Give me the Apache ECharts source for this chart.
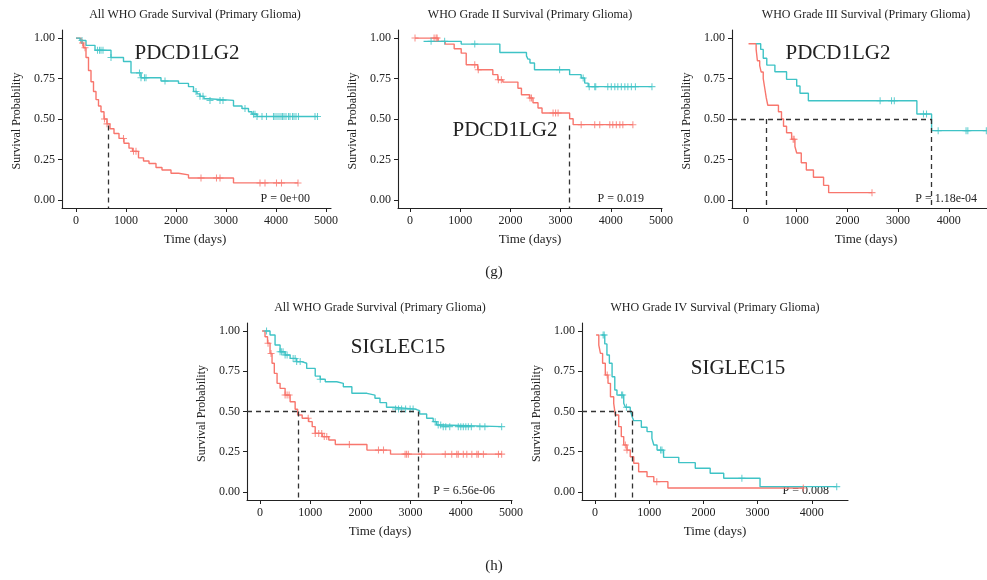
<!DOCTYPE html>
<html>
<head>
<meta charset="utf-8">
<script src="https://cdn.jsdelivr.net/npm/echarts@6/dist/echarts.min.js"></script>
<style>
  html, body { margin: 0; padding: 0; background: #fff; }
  #chart { width: 987px; height: 580px; }
</style>
</head>
<body>
<div id="chart"></div>
<script>
// ---- data (days / survival probability) ----
const xTicks = [0, 1000, 2000, 3000, 4000, 5000];
const yTicks = [0, 0.25, 0.5, 0.75, 1];

// (g) All WHO grade, PDCD1LG2
const p1RedT = [0, 100, 150, 200, 250, 300, 350, 400, 450, 500, 560, 620, 680, 760, 860, 960, 1060, 1130, 1250, 1350, 1460, 1600, 1720, 1900, 2050, 2250, 3150, 4440];
const p1RedS = [1.0, 0.97, 0.94, 0.88, 0.80, 0.73, 0.67, 0.62, 0.58, 0.545, 0.50, 0.47, 0.44, 0.41, 0.38, 0.35, 0.32, 0.30, 0.26, 0.24, 0.225, 0.20, 0.185, 0.165, 0.155, 0.135, 0.105, 0.105];
const p1RedCens = [130, 180, 570, 620, 950, 1150, 1200, 2500, 2810, 2880, 3680, 3780, 4010, 4110, 4440];
const p1CyanT = [0, 80, 200, 380, 700, 950, 1100, 1300, 1700, 2050, 2250, 2350, 2420, 2480, 2560, 2650, 3150, 3320, 3450, 3520, 3620, 4840];
const p1CyanS = [1.0, 0.985, 0.955, 0.925, 0.88, 0.855, 0.785, 0.755, 0.735, 0.72, 0.70, 0.67, 0.655, 0.64, 0.625, 0.615, 0.58, 0.565, 0.545, 0.53, 0.515, 0.515];
const p1CyanCens = [120, 430, 470, 500, 540, 700, 1270, 1300, 1370, 1400, 1780, 2400, 2480, 2540, 2680, 2880, 2940, 3380, 3550, 3580, 3620, 3720, 3810, 3950, 3980, 4020, 4060, 4100, 4130, 4160, 4200, 4250, 4280, 4330, 4360, 4400, 4450, 4780, 4830];
const p1Medians = [640];

// (g) WHO grade II, PDCD1LG2
const p2RedT = [100, 560, 700, 880, 1020, 1120, 1350, 1650, 1750, 1850, 2150, 2220, 2380, 2450, 2550, 2630, 3180, 3250, 4440];
const p2RedS = [1.0, 0.98, 0.963, 0.934, 0.907, 0.835, 0.804, 0.774, 0.743, 0.728, 0.69, 0.65, 0.63, 0.60, 0.568, 0.537, 0.502, 0.465, 0.465];
const p2RedCens = [100, 480, 520, 540, 1290, 1360, 1760, 1820, 2390, 2420, 2850, 2900, 2950, 3410, 3680, 3780, 3980, 4040, 4110, 4180, 4240, 4440];
const p2CyanT = [270, 1020, 1790, 2320, 2350, 2390, 2480, 3180, 3410, 3480, 3550, 4820];
const p2CyanS = [0.98, 0.963, 0.911, 0.89, 0.87, 0.846, 0.804, 0.774, 0.753, 0.722, 0.70, 0.70];
const p2CyanCens = [420, 690, 1290, 2980, 3450, 3570, 3680, 3700, 3940, 4010, 4080, 4140, 4210, 4280, 4340, 4410, 4490, 4820];
const p2Medians = [3170];

// (g) WHO grade III, PDCD1LG2
const p3RedT = [50, 200, 225, 270, 300, 340, 370, 400, 430, 640, 700, 740, 800, 900, 965, 1000, 1090, 1190, 1330, 1530, 1630, 2485];
const p3RedS = [0.965, 0.93, 0.86, 0.83, 0.79, 0.75, 0.69, 0.63, 0.585, 0.545, 0.50, 0.455, 0.415, 0.375, 0.33, 0.29, 0.23, 0.185, 0.14, 0.09, 0.045, 0.045];
const p3RedCens = [930, 950, 2485];
const p3CyanT = [200, 290, 340, 410, 570, 800, 1000, 1065, 1230, 3370, 3660, 4750];
const p3CyanS = [0.965, 0.93, 0.875, 0.833, 0.792, 0.745, 0.704, 0.659, 0.613, 0.531, 0.428, 0.428];
const p3CyanCens = [2645, 2870, 2925, 3500, 3560, 3790, 4340, 4375, 4740];
const p3Medians = [400, 3660];

// (h) All WHO grade, SIGLEC15
const p4RedT = [40, 100, 150, 200, 240, 285, 340, 400, 500, 600, 700, 750, 840, 970, 1040, 1100, 1240, 1370, 1500, 2130, 2600, 4814];
const p4RedS = [1.0, 0.965, 0.924, 0.86, 0.80, 0.737, 0.675, 0.644, 0.602, 0.561, 0.514, 0.478, 0.458, 0.437, 0.406, 0.364, 0.344, 0.323, 0.295, 0.26, 0.235, 0.235];
const p4RedCens = [160, 220, 500, 540, 580, 960, 1100, 1170, 1230, 1280, 1330, 1780, 2360, 2460, 2890, 2920, 2955, 3220, 3690, 3820, 3920, 3950, 4050, 4120, 4220, 4320, 4350, 4450, 4750, 4814];
const p4CyanT = [100, 200, 300, 400, 500, 600, 730, 830, 930, 1100, 1200, 1300, 1530, 1660, 1830, 2130, 2290, 2390, 2520, 2660, 3090, 3180, 3320, 3450, 3520, 3650, 4814];
const p4CyanS = [1.0, 0.975, 0.913, 0.871, 0.851, 0.83, 0.81, 0.80, 0.768, 0.72, 0.70, 0.685, 0.675, 0.654, 0.613, 0.602, 0.582, 0.555, 0.526, 0.515, 0.505, 0.484, 0.458, 0.437, 0.416, 0.406, 0.406];
const p4CyanCens = [130, 400, 430, 460, 500, 540, 660, 700, 730, 800, 1200, 2700, 2760, 2820, 2900, 2990, 3050, 3490, 3550, 3600, 3650, 3700, 3780, 3950, 4000, 4050, 4100, 4150, 4210, 4380, 4480, 4814];
const p4Medians = [757, 3150];

// (h) WHO grade IV, SIGLEC15
const p5RedT = [20, 70, 100, 140, 190, 240, 285, 345, 375, 437, 485, 530, 590, 650, 715, 805, 960, 1085, 1345, 3843];
const p5RedS = [0.975, 0.913, 0.861, 0.80, 0.727, 0.675, 0.592, 0.551, 0.478, 0.406, 0.344, 0.292, 0.26, 0.219, 0.178, 0.126, 0.095, 0.064, 0.025, 0.025];
const p5RedCens = [225, 560, 590, 1140, 3843];
const p5CyanT = [125, 180, 220, 265, 315, 365, 405, 530, 560, 650, 685, 715, 855, 960, 1050, 1085, 1145, 1265, 1545, 1850, 2125, 2375, 3045, 4460];
const p5CyanS = [0.975, 0.92, 0.851, 0.80, 0.716, 0.634, 0.602, 0.551, 0.526, 0.509, 0.468, 0.443, 0.402, 0.375, 0.333, 0.292, 0.26, 0.215, 0.182, 0.147, 0.116, 0.085, 0.033, 0.033];
const p5CyanCens = [150, 170, 490, 510, 580, 1210, 1235, 2710, 4460];
const p5Medians = [375, 683];

const RED = '#F8766D';
const CYAN = '#3fc3c6';
const FONT = '"Liberation Serif", "DejaVu Serif", serif';
const INK = '#222';
const PLUS = 'path://M8.5,0h3v8.5h8.5v3h-8.5v8.5h-3v-8.5h-8.5v-3h8.5z';

const panels = [
  { grid: { left: 62, top: 30, width: 269, height: 178 }, xMin: -280, xMax: 5100,
    red: [p1RedT, p1RedS, p1RedCens], cyan: [p1CyanT, p1CyanS, p1CyanCens],
    medians: p1Medians, medTop: 0.46, hLine: false,
    title: 'All WHO Grade Survival (Primary Glioma)', titleX: 195,
    gene: 'PDCD1LG2', geneXY: [187, 53], pval: 'P = 0e+00', pvalXY: [310, 199] },
  { grid: { left: 398, top: 30, width: 264, height: 178 }, xMin: -239, xMax: 5020,
    red: [p2RedT, p2RedS, p2RedCens], cyan: [p2CyanT, p2CyanS, p2CyanCens],
    medians: p2Medians, medTop: 0.46, hLine: false,
    title: 'WHO Grade II Survival (Primary Glioma)', titleX: 530,
    gene: 'PDCD1LG2', geneXY: [505, 130], pval: 'P = 0.019', pvalXY: [644, 199] },
  { grid: { left: 732, top: 30, width: 255, height: 178 }, xMin: -276, xMax: 4753,
    red: [p3RedT, p3RedS, p3RedCens], cyan: [p3CyanT, p3CyanS, p3CyanCens],
    medians: p3Medians, medTop: 0.5, hLine: true,
    title: 'WHO Grade III Survival (Primary Glioma)', titleX: 866,
    gene: 'PDCD1LG2', geneXY: [838, 53], pval: 'P = 1.18e-04', pvalXY: [977, 199] },
  { grid: { left: 247, top: 323, width: 265, height: 177 }, xMin: -259, xMax: 5020,
    red: [p4RedT, p4RedS, p4RedCens], cyan: [p4CyanT, p4CyanS, p4CyanCens],
    medians: p4Medians, medTop: 0.5, hLine: true,
    title: 'All WHO Grade Survival (Primary Glioma)', titleX: 380,
    gene: 'SIGLEC15', geneXY: [398, 347], pval: 'P = 6.56e-06', pvalXY: [495, 491] },
  { grid: { left: 582, top: 323, width: 266, height: 177 }, xMin: -240, xMax: 4668,
    red: [p5RedT, p5RedS, p5RedCens], cyan: [p5CyanT, p5CyanS, p5CyanCens],
    medians: p5Medians, medTop: 0.5, hLine: true,
    title: 'WHO Grade IV Survival (Primary Glioma)', titleX: 715,
    gene: 'SIGLEC15', geneXY: [738, 368], pval: 'P = 0.008', pvalXY: [829, 491] },
];

function survAt(T, S, t) {
  let s = S[0];
  for (let i = 0; i < T.length; i++) {
    if (T[i] <= t) s = S[i];
  }
  return s;
}

function text(str, x, y, size, align, valign, rotation) {
  return {
    type: 'text', x: x, y: y, rotation: rotation || 0, silent: true,
    style: {
      text: str, fontFamily: FONT, fontSize: size, fill: INK,
      align: align, textAlign: align, verticalAlign: valign, textVerticalAlign: valign,
    },
  };
}

const series = [];
const graphics = [];
panels.forEach((p, i) => {
  const axisIdx = { xAxisIndex: i, yAxisIndex: i };
  [[p.red, RED], [p.cyan, CYAN]].forEach(([grp, color]) => {
    const [T, S, C] = grp;
    series.push(Object.assign({
      type: 'line', step: 'end', showSymbol: false, silent: true,
      data: T.map((t, k) => [t, S[k]]),
      lineStyle: { color: color, width: 1.4 },
      z: 3,
    }, axisIdx));
    series.push(Object.assign({
      type: 'scatter', symbol: PLUS, symbolSize: 7, silent: true,
      data: C.map(c => [c, survAt(T, S, c)]),
      itemStyle: { color: color },
      z: 4,
    }, axisIdx));
  });
  // median survival lines
  const segs = [];
  if (p.hLine) {
    segs.push([{ coord: [p.xMin, 0.5] }, { coord: [Math.max(...p.medians), 0.5] }]);
  }
  p.medians.forEach(m => segs.push([{ coord: [m, p.medTop] }, { coord: [m, -0.05] }]));
  series.push(Object.assign({
    type: 'line', data: [], silent: true,
    markLine: {
      silent: true, symbol: ['none', 'none'], label: { show: false },
      lineStyle: { color: '#333', width: 1.3, type: [5, 4] },
      data: segs,
    },
    z: 5,
  }, axisIdx));

  const g = p.grid;
  graphics.push(text(p.title, p.titleX, g.top - 15, 12, 'center', 'middle'));
  graphics.push(text('Time (days)', p.titleX, g.top + g.height + 32, 13, 'center', 'middle'));
  graphics.push(text('Survival Probability', g.left - 45, g.top + g.height / 2 + 2, 12, 'center', 'middle', Math.PI / 2));
  graphics.push(text(p.gene, p.geneXY[0], p.geneXY[1], 21, 'center', 'middle'));
  graphics.push(text(p.pval, p.pvalXY[0], p.pvalXY[1], 12, 'right', 'middle'));
});
graphics.push(text('(g)', 494, 272, 15, 'center', 'middle'));
graphics.push(text('(h)', 494, 566, 15, 'center', 'middle'));

const axisLine = { show: true, onZero: false, lineStyle: { color: INK, width: 1.1 } };
const labelStyle = { color: INK, fontFamily: FONT, fontSize: 12 };

const option = {
  animation: false,
  backgroundColor: '#fff',
  grid: panels.map(p => Object.assign({ containLabel: false }, p.grid)),
  xAxis: panels.map((p, i) => {
    const ticks = xTicks.filter(t => t <= p.xMax);
    return {
      gridIndex: i, type: 'value', min: p.xMin, max: p.xMax,
      axisLine: axisLine,
      axisTick: { show: true, length: 4, customValues: ticks, lineStyle: { color: INK } },
      axisLabel: Object.assign({ customValues: ticks, margin: 7, formatter: v => String(v) }, labelStyle),
      splitLine: { show: false },
    };
  }),
  yAxis: panels.map((p, i) => ({
    gridIndex: i, type: 'value', min: -0.05, max: 1.05,
    axisLine: axisLine,
    axisTick: { show: true, length: 4, customValues: yTicks, lineStyle: { color: INK } },
    axisLabel: Object.assign({ customValues: yTicks, margin: 7, formatter: v => v.toFixed(2) }, labelStyle),
    splitLine: { show: false },
  })),
  graphic: graphics,
  series: series,
};

const chart = echarts.init(document.getElementById('chart'));
chart.setOption(option);
</script>
</body>
</html>
